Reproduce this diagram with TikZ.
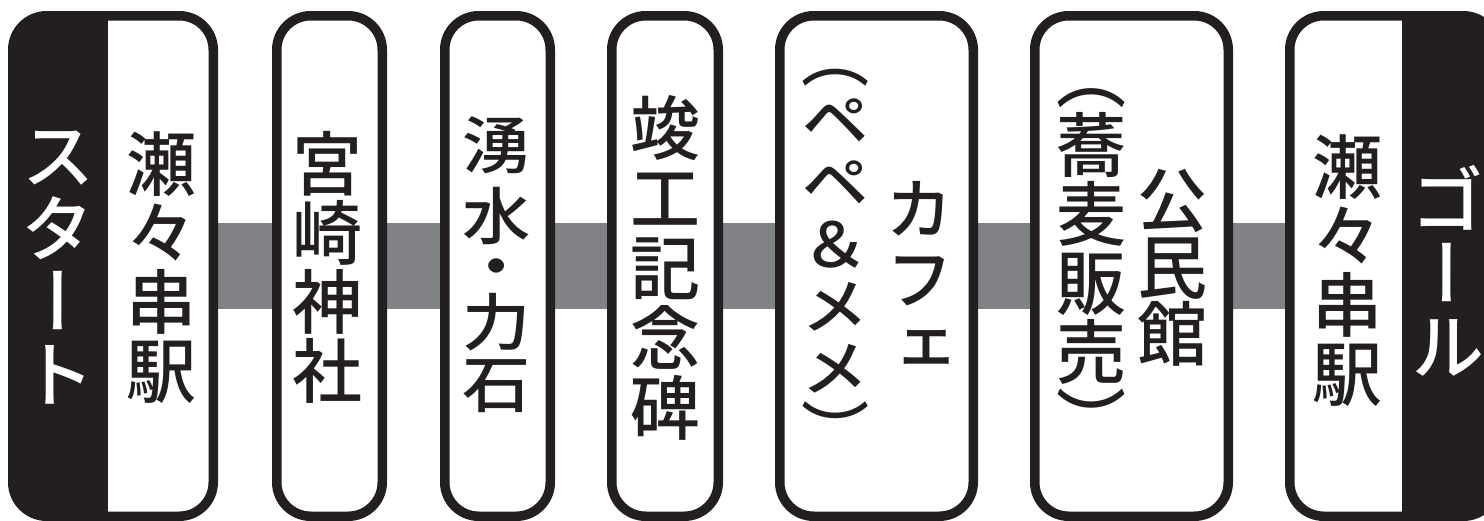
\documentclass[tikz,border=0pt]{standalone}
\usepackage{fontspec}
\usetikzlibrary{backgrounds}
\newfontfamily\tate[RawFeature=+vert]{Noto Sans CJK JP Medium}
\newfontfamily\tatewide[RawFeature=+vert,FakeStretch=1.1]{Noto Sans CJK JP Medium}
\definecolor{ink}{RGB}{35,31,32}
\definecolor{track}{RGB}{128,130,133}

\begin{document}
\begin{tikzpicture}[x=0.5pt,y=-0.5pt,
	stop/.style={rectangle,draw=ink,fill=white,line width=4.75pt,rounded corners=17pt,minimum height=250.25pt,inner sep=0pt},
	darkleft/.style={path picture={\fill[ink,sharp corners] (path picture bounding box.south west) rectangle ([xshift=47.6pt]path picture bounding box.north west);}},
	darkright/.style={path picture={\fill[ink,sharp corners] (path picture bounding box.south east) rectangle ([xshift=-47.6pt]path picture bounding box.north east);}},
	placename/.style={align=center,inner sep=0pt,text=ink,font=\tate\fontsize{35}{34.5}\selectfont},
	narrowname/.style={placename,font=\tatewide\fontsize{31}{30.5}\selectfont},
	endname/.style={placename,text=white,font=\tate\fontsize{37}{36.5}\selectfont}]
\useasboundingbox (0,0) rectangle (1484,520);
\clip (0,0) rectangle (1484,520);
\node [stop,darkleft,minimum width=100.25pt] (start) at (113,266) {};
\node [stop,minimum width=52.75pt] (miyazaki) at (329.5,266) {};
\node [stop,minimum width=52.75pt] (yusui) at (497.5,266) {};
\node [stop,minimum width=53.25pt] (shunko) at (665,266) {};
\node [stop,minimum width=96.75pt] (cafe) at (876.5,266) {};
\node [stop,minimum width=96.75pt] (kominkan) at (1131.5,266) {};
\node [stop,darkright,minimum width=103.75pt] (goal) at (1393.5,266) {};
\begin{scope}[on background layer]
	\draw [track,line width=43pt] (start) -- (goal);
\end{scope}
\node [endname] (startlabel) at (58,268) {ス\\タ\\ー\\ト};
\node [placename] (startstation) at (161,268) {瀬\\々\\串\\駅};
\node [placename] (miyazakilabel) at (327,267) {宮\\崎\\神\\社};
\foreach \ch/\y [count=\i] in {湧/145,水/216,・/274,力/322,石/386}
	\node [narrowname] (yusuichar\i) at (497,\y) {\ch};
\node [placename,font=\tate\fontsize{35}{35}\selectfont] (shunkolabel) at (665,268) {竣\\工\\記\\念\\碑};
\node [narrowname,font=\tatewide\fontsize{31}{31}\selectfont] (cafeshop) at (836,261) {（\\ペ\\ペ\\＆\\メ\\メ\\）};
\node [placename,font=\tate\fontsize{34}{35}\selectfont] (cafelabel) at (919,278) {カ\\フ\\ェ};
\node [placename] (sobasale) at (1091,268) {（\\蕎\\麦\\販\\売\\）};
\node [placename,font=\tate\fontsize{35}{33.5}\selectfont] (kominkanlabel) at (1172,268) {公\\民\\館};
\node [placename] (goalstation) at (1347,271) {瀬\\々\\串\\駅};
\node [endname] (goallabel) at (1447,271) {ゴ\\ー\\ル};
\end{tikzpicture}
\end{document}
